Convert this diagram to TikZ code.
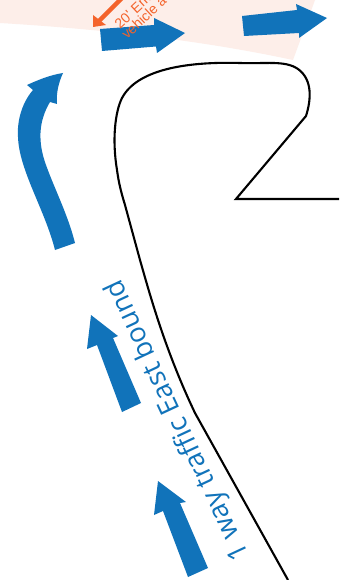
\documentclass[tikz,border=0pt]{standalone}
\usepackage{fontspec}
\setmainfont{Open Sans}
\newfontfamily\labelfont{Liberation Sans}
\definecolor{flowblue}{HTML}{1173BA}
\definecolor{pinkzone}{HTML}{FDEEE9}
\definecolor{accessorange}{HTML}{F4632B}
\tikzset{
  flow/.style={fill=flowblue,draw=none},
  road/.style={draw=black,line width=2.1bp,line join=miter},
  trafficlabel/.style={text=flowblue,font=\fontsize{27.5}{28}\selectfont,inner sep=0pt,rotate=115},
  accesslabel/.style={text=accessorange,font=\labelfont\fontsize{14}{15}\selectfont,inner sep=0pt,anchor=base west,rotate=43}
}
\begin{document}
\begin{tikzpicture}[x=1bp,y=-1bp]
\useasboundingbox (0,0) rectangle (339,580);
\clip (0,0) rectangle (339,580);
\fill[white] (0,0) rectangle (339,580);
\fill[pinkzone] (0,0) -- (0,23) .. controls (100,29) and (200,40) .. (293,60) -- (315,0) -- cycle;
\draw[accessorange,line width=4.5bp] (122,-2) -- (99,21);
\fill[accessorange] (93,27) -- (93,15) -- (106,25) -- cycle;
\fill[flow] (100,29) -- (102,51) -- (156,46.5) -- (157,53) -- (185,33) -- (154,18) -- (154,25) -- cycle;
\node[accesslabel] (emergency) at (120,29.5) {20' Em};
\node[accesslabel] (vehicle) at (127,40) {vehicle a};
\fill[flow] (242,16) -- (244,36) -- (299,33) -- (299,38) -- (327,18) -- (296,4) -- (297,10) -- cycle;
\fill[flow] (55,250) -- (75,243) .. controls (68,215) and (55,190) .. (46,165)
  .. controls (38,143) and (38,122) .. (50,102) -- (57,104) .. controls (56,92) and (59,82) .. (63,73)
  .. controls (50,75) and (38,80) .. (27,85) -- (33,90)
  .. controls (20,105) and (17,125) .. (18,137)
  .. controls (19,170) and (45,210) .. cycle;
\fill[flow] (91,315) -- (87,349) -- (97,345) -- (122,412) -- (141,403) -- (113,338) -- (118,336) -- cycle;
\fill[flow] (158,481) -- (154,515) -- (163,511) -- (188,577) -- (208,568) -- (180,503) -- (186,502) -- cycle;
\draw[road] (339,199) -- (236,199) -- (306,116)
  .. controls (311,100) and (313,80) .. (298,69)
  .. controls (285,60) and (265,64) .. (240,63)
  .. controls (205,62) and (140,64) .. (122,98)
  .. controls (115,112) and (112,140) .. (117,170)
  .. controls (119,185) and (122,195) .. (125,205)
  -- (140,260)
  .. controls (150,295) and (165,350) .. (195,413)
  -- (288,580);
\node[trafficlabel] (traffic) at (178,420) {1 way traffic East bound};
\end{tikzpicture}
\end{document}
